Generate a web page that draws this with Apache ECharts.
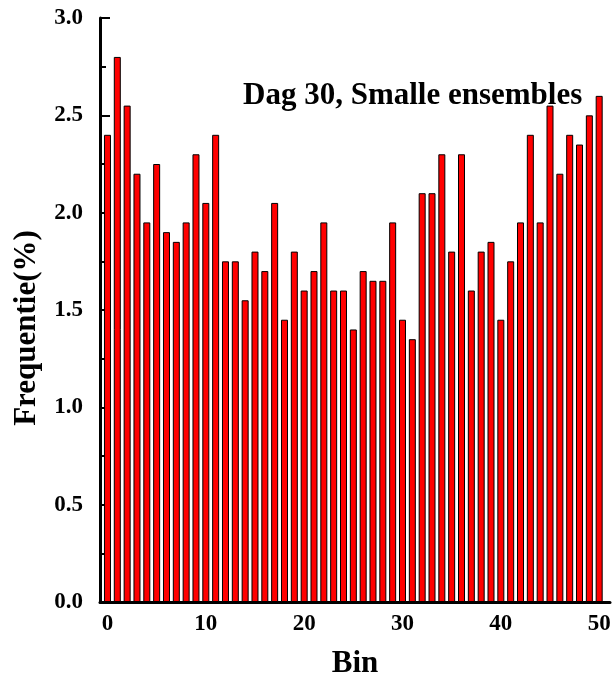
<!DOCTYPE html>
<html>
<head>
<meta charset="utf-8">
<script src="https://cdn.jsdelivr.net/npm/echarts@6/dist/echarts.min.js"></script>
<style>
html,body{margin:0;padding:0;background:#fff;}
#chart{width:614px;height:684px;}
</style>
</head>
<body>
<div id="chart"></div>
<script>
const bins = [0,1,2,3,4,5,6,7,8,9,10,11,12,13,14,15,16,17,18,19,20,21,22,23,24,25,26,27,28,29,30,31,32,33,34,35,36,37,38,39,40,41,42,43,44,45,46,47,48,49,50];
const frequencies = [2.40,2.80,2.55,2.20,1.95,2.25,1.90,1.85,1.95,2.30,2.05,2.40,1.75,1.75,1.55,1.80,1.70,2.05,1.45,1.80,1.60,1.70,1.95,1.60,1.60,1.40,1.70,1.65,1.65,1.95,1.45,1.35,2.10,2.10,2.30,1.80,2.30,1.60,1.80,1.85,1.45,1.75,1.95,2.40,1.95,2.55,2.20,2.40,2.35,2.50,2.60];
const xTickLabels = [0,10,20,30,40,50];
const xMinorTicks = [5,15,25,35,45];
const titleText = 'Dag 30, Smalle ensembles';
const xName = 'Bin';
const yName = 'Frequentie(%)';

const font = '"Liberation Serif", "Times New Roman", serif';
const chart = echarts.init(document.getElementById('chart'), null, {renderer: 'canvas'});
chart.setOption({
  animation: false,
  backgroundColor: '#fff',
  title: {
    text: titleText,
    left: 238, top: 75,
    textStyle: {fontFamily: font, fontWeight: 'bold', fontSize: 31, color: '#000'}
  },
  grid: {left: 100, right: 4, top: 18, bottom: 81},
  xAxis: {
    type: 'value',
    min: -0.76, max: 51.1,
    name: xName, nameLocation: 'middle', nameGap: 46,
    nameTextStyle: {fontFamily: font, fontWeight: 'bold', fontSize: 31, color: '#000'},
    axisLine: {show: true, onZero: false, lineStyle: {color: '#000', width: 3}},
    axisTick: {show: true, inside: true, length: 4, customValues: xMinorTicks, lineStyle: {color: '#000', width: 2}},
    axisLabel: {customValues: xTickLabels, fontFamily: font, fontWeight: 'bold', fontSize: 23, color: '#000', margin: 11},
    splitLine: {show: false}
  },
  yAxis: {
    type: 'value',
    min: 0, max: 3, interval: 0.5,
    name: yName, nameLocation: 'middle', nameGap: 58, nameRotate: 90,
    nameTextStyle: {fontFamily: font, fontWeight: 'bold', fontSize: 31, color: '#000', padding: [0, 36, 0, 0]},
    axisLine: {show: true, onZero: false, lineStyle: {color: '#000', width: 3}},
    axisTick: {show: true, inside: true, length: 10, lineStyle: {color: '#000', width: 2}},
    minorTick: {show: true, splitNumber: 2, length: 6, lineStyle: {color: '#000', width: 2}},
    axisLabel: {fontFamily: font, fontWeight: 'bold', fontSize: 23, color: '#000', margin: 17,
      formatter: v => v.toFixed(1)},
    splitLine: {show: false}
  },
  series: [{
    type: 'bar',
    data: bins.map((b, i) => [b, frequencies[i]]),
    barWidth: 7,
    itemStyle: {color: '#ff0000', borderColor: '#000', borderWidth: 1},
    z: 1
  }]
});
</script>
</body>
</html>
